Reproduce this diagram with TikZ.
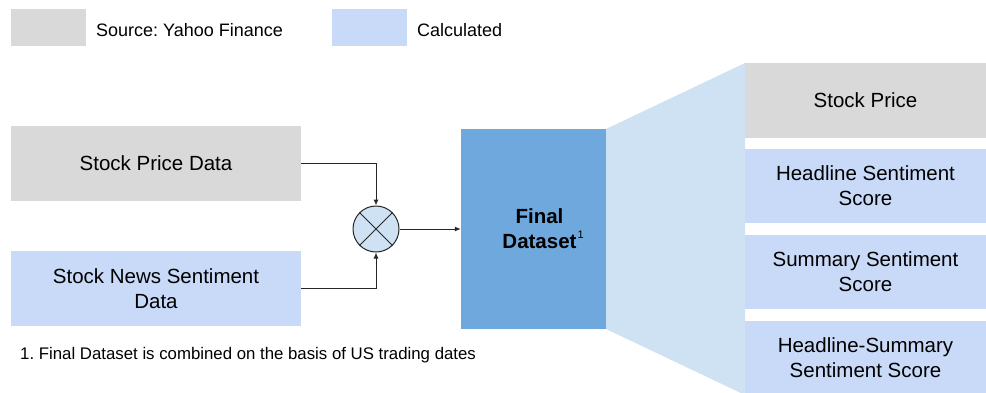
\documentclass[tikz,border=0pt]{standalone}
\usepackage{fontspec}
\setmainfont{Liberation Sans}
\usetikzlibrary{arrows.meta}
\definecolor{srcgray}{HTML}{D9D9D9}
\definecolor{calcblue}{HTML}{C9DAF8}
\definecolor{finalblue}{HTML}{6FA8DC}
\definecolor{fanblue}{HTML}{CFE2F3}
\frenchspacing
\tikzset{
  box/.style={rectangle, inner sep=0pt, align=center, font=\fontsize{20.5}{25}\selectfont},
  srcbox/.style={box, fill=srcgray},
  calcbox/.style={box, fill=calcblue},
  legtext/.style={anchor=west, inner sep=0pt, font=\fontsize{18}{20}\selectfont},
  arr/.style={-{Latex[length=6pt,width=5pt]}, line width=1pt, draw=black!85},
}
\begin{document}
\begin{tikzpicture}[x=1pt,y=-1pt]
\useasboundingbox (0,0) rectangle (986,392);
\begin{scope}
\clip (0,0) rectangle (986,392);
% fan
\fill[fanblue] (606,129) -- (745,63) -- (745,395) -- (606,329) -- cycle;
% right boxes
\node[srcbox, minimum width=241pt, minimum height=75pt] (sp) at (865.5,100.5) {Stock Price};
\node[calcbox, minimum width=241pt, minimum height=74pt] (hs) at (865.5,186) {Headline Sentiment\\Score};
\node[calcbox, minimum width=241pt, minimum height=74pt] (ss) at (865.5,272) {Summary Sentiment\\Score};
\node[calcbox, minimum width=241pt, minimum height=74pt] (hss) at (865.5,358) {Headline-Summary\\Sentiment Score};
\end{scope}
% legend
\node[srcbox, minimum width=75pt, minimum height=37pt] (lg1) at (48.5,27.5) {};
\node[legtext] (lt1) at (96,30) {Source: Yahoo Finance};
\node[calcbox, minimum width=75pt, minimum height=37pt] (lg2) at (369.5,27.5) {};
\node[legtext] (lt2) at (417,30) {Calculated};
% left boxes
\node[srcbox, minimum width=290pt, minimum height=75pt] (spd) at (156,163.5) {Stock Price Data};
\node[calcbox, minimum width=290pt, minimum height=75pt] (snsd) at (156,288.5) {Stock News Sentiment\\Data};
% mixer
\node[circle, draw=black!85, line width=1pt, fill=fanblue, minimum size=46pt, inner sep=0pt] (mix) at (376,229) {};
\draw[line width=1pt, draw=black!85] (mix.45) -- (mix.225) (mix.135) -- (mix.315);
% final dataset
\node[box, fill=finalblue, minimum width=145pt, minimum height=200pt] (fd) at (533.5,229) {};
\node[box, font=\fontsize{20.5}{25}\selectfont\bfseries] (fdt) at ([xshift=6pt]fd.center) {Final\\Dataset\rlap{\hspace{1pt}\raisebox{10pt}{\normalfont\fontsize{11}{11}\selectfont 1}}};
% connectors
\draw[arr] (spd.east) -| (mix.north);
\draw[arr] (snsd.east) -| (mix.south);
\draw[arr] (mix.east) -- (fd.west);
% footnote
\node[anchor=west, inner sep=0pt, font=\fontsize{16.8}{18}\selectfont] (fn) at (20,355) {1. Final Dataset is combined on the basis of US trading dates};
\end{tikzpicture}
\end{document}
